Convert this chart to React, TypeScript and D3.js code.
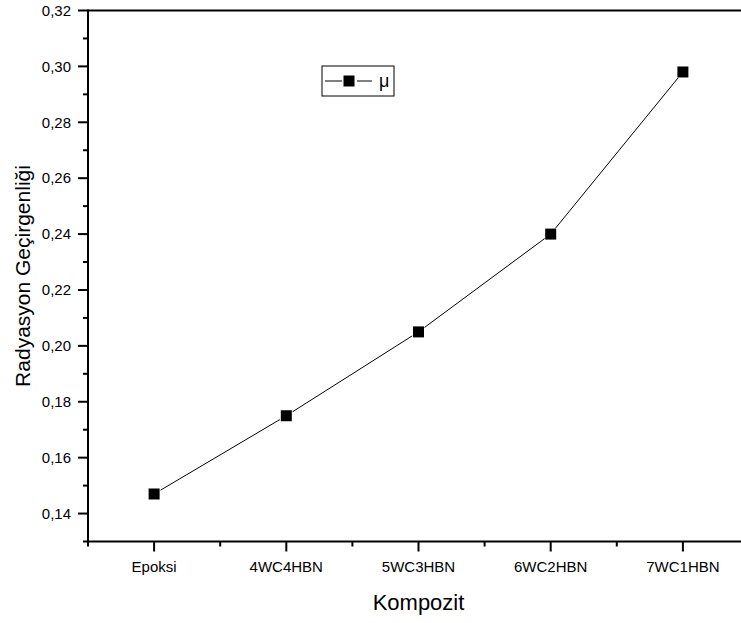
import React from "react";
import * as d3 from "d3";

const categories = ["Epoksi", "4WC4HBN", "5WC3HBN", "6WC2HBN", "7WC1HBN"];
const muValues = [0.147, 0.175, 0.205, 0.24, 0.298];
const yMajorTicks = [0.14, 0.16, 0.18, 0.2, 0.22, 0.24, 0.26, 0.28, 0.3, 0.32];
const yMinorTicks = [0.13, 0.15, 0.17, 0.19, 0.21, 0.23, 0.25, 0.27, 0.29, 0.31];
const seriesName = "μ";
const xTitle = "Kompozit";
const yTitle = "Radyasyon Geçirgenliği";

const W = 741;
const H = 623;
const FONT = "'Liberation Sans', Arial, sans-serif";

export default function App() {
  const x = d3.scaleLinear().domain([-0.5, categories.length - 0.5]).range([88, 749]);
  const y = d3.scaleLinear().domain([0.13, 0.32]).range([541.5, 10.5]);
  const fmt = (v: number) => v.toFixed(2).replace(".", ",");
  const ms = 11;
  const gap = ms / 2 + 2;
  const pts = muValues.map((v, i) => [x(i), y(v)] as [number, number]);
  const segs = pts.slice(1).map((p, i) => {
    const a = pts[i];
    const dx = p[0] - a[0];
    const dy = p[1] - a[1];
    const len = Math.hypot(dx, dy);
    const ux = dx / len;
    const uy = dy / len;
    return [
      [a[0] + ux * gap, a[1] + uy * gap],
      [p[0] - ux * gap, p[1] - uy * gap],
    ] as [number, number][];
  });
  const lineGen = d3.line<[number, number]>();
  const xMinor = d3.range(-0.5, categories.length, 1);
  const x0 = x.range()[0];
  const y0 = y.range()[0];
  const yTop = y.range()[1];

  return (
    <svg
      width={W}
      height={H}
      style={{ position: "absolute", left: 0, top: 0, background: "#fff" }}
      fontFamily={FONT}
    >
      <rect x={0} y={0} width={W} height={H} fill="#fff" />
      {/* data line */}
      {segs.map((s, i) => (
        <path key={"s" + i} d={lineGen(s) || ""} fill="none" stroke="#000" strokeWidth={1} />
      ))}
      {muValues.map((v, i) => (
        <rect key={i} x={x(i) - ms / 2} y={y(v) - ms / 2} width={ms} height={ms} fill="#000" />
      ))}
      {/* axes frame */}
      <line x1={x0} x2={W} y1={yTop} y2={yTop} stroke="#000" strokeWidth={2} />
      <line x1={x0} x2={W} y1={y0} y2={y0} stroke="#000" strokeWidth={2} />
      <line x1={x0} x2={x0} y1={yTop - 1} y2={y0 + 1} stroke="#000" strokeWidth={2} />
      {/* y ticks */}
      {yMajorTicks.map((t) => (
        <g key={"ym" + t}>
          <line x1={x0 - 10} x2={x0} y1={y(t)} y2={y(t)} stroke="#000" strokeWidth={2} />
          <text x={x0 - 17} y={y(t)} dy="0.35em" textAnchor="end" fontSize={15} fill="#000">
            {fmt(t)}
          </text>
        </g>
      ))}
      {yMinorTicks.map((t) => (
        <line key={"yn" + t} x1={x0 - 5} x2={x0} y1={y(t)} y2={y(t)} stroke="#000" strokeWidth={2} />
      ))}
      {/* x ticks */}
      {categories.map((c, i) => (
        <g key={c}>
          <line x1={x(i)} x2={x(i)} y1={y0} y2={y0 + 10} stroke="#000" strokeWidth={2} />
          <text x={x(i)} y={571.5} textAnchor="middle" fontSize={15} fill="#000">
            {c}
          </text>
        </g>
      ))}
      {xMinor.map((t) => (
        <line key={"xn" + t} x1={x(t)} x2={x(t)} y1={y0} y2={y0 + 5} stroke="#000" strokeWidth={2} />
      ))}
      {/* titles */}
      <text x={x(2)} y={610} textAnchor="middle" fontSize={22} fill="#000">
        {xTitle}
      </text>
      <text
        transform={`translate(30, ${(y0 + yTop) / 2}) rotate(-90)`}
        textAnchor="middle"
        fontSize={21}
        fill="#000"
      >
        {yTitle}
      </text>
      {/* legend */}
      <g>
        <rect x={322} y={66} width={72} height={30} fill="#fff" stroke="#000" strokeWidth={1} />
        <line x1={325} x2={342} y1={81} y2={81} stroke="#000" strokeWidth={1} />
        <line x1={357} x2={372} y1={81} y2={81} stroke="#000" strokeWidth={1} />
        <rect x={349 - ms / 2} y={81 - ms / 2} width={ms} height={ms} fill="#000" />
        <text x={379} y={81} dy="0.35em" fontSize={18} fill="#000">
          {seriesName}
        </text>
      </g>
    </svg>
  );
}
